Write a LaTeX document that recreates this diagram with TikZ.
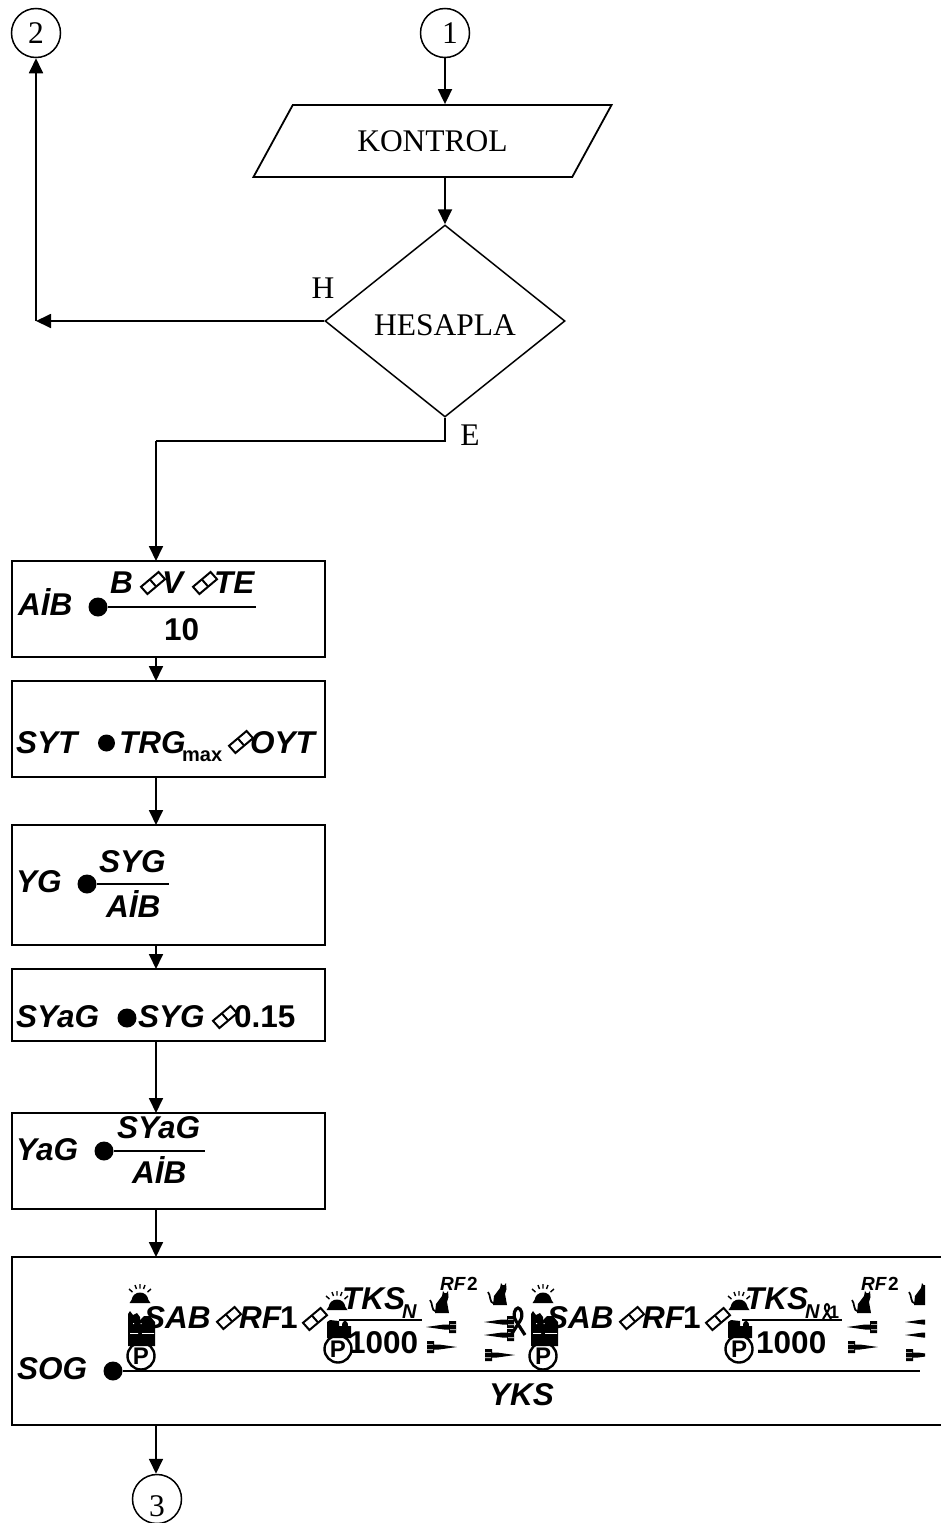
\documentclass[tikz,border=0pt]{standalone}
\usepackage{fontspec}
\setmainfont{Liberation Serif}
\setsansfont{Liberation Sans}
\usetikzlibrary{shapes.geometric, arrows.meta, positioning, calc}

\newcommand{\eqfont}{\sffamily\bfseries\itshape\fontsize{31.5}{36}\selectfont}
\newcommand{\numfont}{\sffamily\bfseries\fontsize{31.5}{36}\selectfont}
\newcommand{\subfont}{\sffamily\bfseries\itshape\fontsize{20}{24}\selectfont}
\newcommand{\flowfont}{\rmfamily\fontsize{31.5}{36}\selectfont}

\tikzset{
    flowline/.style={line width=1.8pt, -{Triangle[length=15pt,width=14pt]}},
    plainline/.style={line width=1.8pt},
    barline/.style={line width=1.4pt},
    stepbox/.style={draw, line width=1.8pt, minimum width=313pt, inner sep=0pt, outer sep=0pt},
    termcircle/.style={draw, circle, line width=1.5pt, minimum size=49pt, inner sep=0pt, font=\flowfont},
    eqlab/.style={anchor=base west, inner sep=0pt, font=\eqfont},
    numlab/.style={anchor=base west, inner sep=0pt, font=\numfont},
    sublab/.style={anchor=base west, inner sep=0pt, font=\subfont},
    eqdot/.style={circle, fill=black, minimum size=19pt, inner sep=0pt},
    parksign/.style={circle, draw, line width=2.4pt, minimum size=27pt, inner sep=0pt, font=\sffamily\bfseries\fontsize{24}{26}\selectfont},
    bandpic/.pic={
        \draw[line width=2pt, fill=white] (-12,3.8) -- (5.6,-11) -- (12,-3.8) -- (-5.6,11) -- cycle;
        \draw[line width=2pt] (-3.2,-3.6) -- (3.2,3.6);
    },
    bellpic/.pic={
        \fill (-10.5,5) -- (-8.5,2) .. controls (-7,-8) and (7,-8) .. (8.5,2) -- (10.5,5) -- cycle;
        \draw[line width=1.4pt] (-11,-9) -- (-7.5,-6) (-5,-13) -- (-3.5,-9) (0,-14) -- (0,-9.5) (5,-13) -- (3.5,-9) (11,-9) -- (7.5,-6);
    },
    catpic/.pic={
        \fill (13,0) -- (14.5,2) -- (16.5,2) -- (18,0) -- (18.5,6) -- (17,11) -- (19,22) -- (5,22) -- (6,13) -- (12,5) -- cycle;
        \draw[line width=1.7pt] (6,20.5) .. controls (1,20) and (3,12) .. (0,9);
    },
    dartpic/.pic={
        \fill (0,0) -- (18,-2.5) -- (23,-2.5) -- (23,-6) -- (30,-6) -- (30,6) -- (23,6) -- (23,2.5) -- (18,2.5) -- cycle;
        \fill[white] (24,-3) rectangle (30,-2.4) (24,2.4) rectangle (30,3);
    },
    ribbonpic/.pic={
        \draw[line width=3.2pt] (-7,14) -- (2,0) .. controls (6,-6) and (3,-13) .. (0,-13) .. controls (-3,-13) and (-6,-6) .. (-2,0) -- (7,14);
    },
    smallribbonpic/.pic={
        \draw[line width=2pt] (-4,8) -- (1,0) .. controls (3.3,-3.3) and (1.6,-7) .. (0,-7) .. controls (-1.6,-7) and (-3.3,-3.3) .. (-1,0) -- (4,8);
    },
    bagpic/.pic={
        \fill (0,3) -- (2,0) -- (5,4) -- (9,2) -- (12,6) -- (12,35) -- (0,35) -- cycle;
        \fill (12,9) -- (16,5) -- (22,5) -- (27,11) -- (27,35) -- (12,35) -- cycle;
        \fill[white] (14,22) rectangle (26,22.8) (2,22) rectangle (10,22.8) (12.5,12) rectangle (13.5,13) (5,12) rectangle (6,13);
    },
    smallbagpic/.pic={
        \fill (0,2) -- (3,0) -- (12,1) -- (12,18) -- (0,18) -- cycle;
        \fill (12,6) -- (15,6) .. controls (15,-1) and (21,-1) .. (21,6) -- (24,6) -- (24,18) -- (12,18) -- cycle;
    }
}

\begin{document}
\begin{tikzpicture}[x=1pt, y=-1pt]
    \useasboundingbox (0,0) rectangle (941,1523);
    \clip (0,0) rectangle (941,1523);

    % flow part
    \coordinate (spine) at (156,0);
    \node[termcircle] (conn1) at (445,33) {\hspace{10pt}1};
    \node[termcircle] (conn2) at (36,33) {2};
    \node[trapezium, draw, line width=1.8pt, trapezium left angle=45, trapezium right angle=135, trapezium stretches=true, minimum width=359pt, minimum height=72pt, inner sep=0pt, font=\flowfont] (kontrol) at (432.5,141) {KONTROL};
    \node[diamond, draw, line width=1.5pt, minimum width=240pt, minimum height=192pt, inner sep=0pt, font=\flowfont] (hesapla) at (445,321) {\raisebox{-14pt}[0pt][0pt]{HESAPLA}};
    \node[font=\flowfont, inner sep=0pt] (hlab) at (323,288) {H};
    \node[font=\flowfont, inner sep=0pt] (elab) at (470,435) {E};
    \coordinate (hturn) at (36,321);
    \coordinate (eturn) at (445,441);

    \node[stepbox, minimum height=96pt, anchor=north west] (aib) at (12,561) {};
    \node[stepbox, minimum height=96pt, anchor=north west] (syt) at (12,681) {};
    \node[stepbox, minimum height=120pt, anchor=north west] (yg) at (12,825) {};
    \node[stepbox, minimum height=72pt, anchor=north west] (syag) at (12,969) {};
    \node[stepbox, minimum height=96pt, anchor=north west] (yag) at (12,1113) {};
    \node[stepbox, minimum width=935pt, minimum height=168pt, anchor=north west] (sog) at (12,1257) {};
    \node[termcircle] (conn3) at (157,1499) {\raisebox{-17pt}[0pt][0pt]{3}};

    \draw[flowline] (conn1.south) -- (conn1.south |- kontrol.north);
    \draw[flowline] (kontrol.south -| hesapla.north) -- (hesapla.north);
    \draw[flowline] (hesapla.west) -- (hturn);
    \draw[flowline] (hturn) -- (conn2.south);
    \draw[plainline] (hesapla.south) -- (eturn) -- (eturn -| spine);
    \draw[flowline] (eturn -| spine) -- (spine |- aib.north);
    \draw[flowline] (spine |- aib.south) -- (spine |- syt.north);
    \draw[flowline] (spine |- syt.south) -- (spine |- yg.north);
    \draw[flowline] (spine |- yg.south) -- (spine |- syag.north);
    \draw[flowline] (spine |- syag.south) -- (spine |- yag.north);
    \draw[flowline] (spine |- yag.south) -- (spine |- sog.north);
    \draw[flowline] (spine |- sog.south) -- (spine |- conn3.north);

    % aib
    \node[eqlab] (aibname) at (18,615) {A\.{I}B};
    \node[eqdot] (aibdot) at (98,607) {};
    \draw[barline] (aibdot.east) -- ++(148,0);
    \node[eqlab] (aibb) at (110,593) {B};
    \pic at (153,583) {bandpic};
    \node[eqlab] (aibv) at (162,593) {V};
    \pic at (205,583) {bandpic};
    \node[eqlab] (aibte) at (214,593) {TE};
    \node[numlab] (aibten) at (164,640) {10};

    % syt
    \node[eqlab] (sytname) at (16,753) {SYT};
    \node[eqdot, minimum size=17pt] (sytdot) at (106.5,743) {};
    \node[eqlab] (sytrg) at (119,753) {TRG};
    \node[inner sep=0pt, anchor=base west, font=\sffamily\bfseries\fontsize{20}{22}\selectfont] (sytmax) at (182,761) {max};
    \pic at (241,742) {bandpic};
    \node[eqlab] (sytoyt) at (250,753) {OYT};

    % yg
    \node[eqlab] (ygname) at (16,892) {YG};
    \node[eqdot] (ygdot) at (87,884) {};
    \draw[barline] (ygdot.east) -- ++(72,0);
    \node[eqlab] (ygtop) at (99,872) {SYG};
    \node[eqlab] (ygbot) at (106,917) {A\.{I}B};

    % syag
    \node[eqlab] (syagname) at (16,1027) {SYaG};
    \node[eqdot] (syagdot) at (127,1018) {};
    \node[eqlab] (syagsyg) at (138,1027) {SYG};
    \pic at (225,1017) {bandpic};
    \node[numlab] (syagnum) at (234,1027) {0.15};

    % yag
    \node[eqlab] (yagname) at (16,1160) {YaG};
    \node[eqdot] (yagdot) at (104,1151) {};
    \draw[barline] (yagdot.east) -- ++(91,0);
    \node[eqlab] (yagtop) at (117,1138) {SYaG};
    \node[eqlab] (yagbot) at (132,1183) {A\.{I}B};

    % sog
    \node[eqlab] (sogname) at (17,1379) {SOG};
    \node[eqdot] (sogdot) at (113,1371) {};
    \draw[barline] (sogdot.east) -- ++(797,0);
    \node[eqlab] (sogyks) at (489,1405) {YKS};

    % sog, first term
    \pic at (140,1298) {bellpic};
    \pic at (128,1311) {bagpic};
    \node[parksign] (parka) at (141,1356) {P};
    \node[eqlab] (saba) at (144,1328) {SAB};
    \pic at (229,1318) {bandpic};
    \node[eqlab] (rfa) at (239,1328) {RF};
    \node[numlab] (onea) at (280,1328) {1};
    \pic at (315,1319) {bandpic};
    \pic at (337,1305) {bellpic};
    \pic at (327,1320) {smallbagpic};
    \node[parksign] (parkb) at (338,1349) {P};
    \node[eqlab] (tksa) at (342,1309) {TKS};
    \node[sublab] (subna) at (402,1318) {N};
    \draw[barline] (339,1320) -- (422,1320);
    \node[numlab] (kilo) at (348,1353) {1000};
    \node[sublab, font=\subfont\fontsize{19}{22}\selectfont] (rfb) at (440,1290) {RF\hspace{1.5pt}{\upshape 2}};
    \pic at (430,1291) {catpic};
    \pic at (426,1327) {dartpic};
    \pic[xscale=-1] at (457,1347) {dartpic};
    \pic at (488,1283) {catpic};
    \pic at (484,1322) {dartpic};
    \pic at (484,1335) {dartpic};
    \pic[xscale=-1] at (515,1355) {dartpic};
    \pic at (518,1321) {ribbonpic};

    % sog, second term
    \pic at (543,1298) {bellpic};
    \pic at (531,1311) {bagpic};
    \node[parksign] (parkc) at (543,1356) {P};
    \node[eqlab] (sabb) at (547,1328) {SAB};
    \pic at (632,1318) {bandpic};
    \node[eqlab] (rfc) at (642,1328) {RF};
    \node[numlab] (oneb) at (683,1328) {1};
    \pic at (718,1319) {bandpic};
    \pic at (739,1305) {bellpic};
    \pic at (728,1320) {smallbagpic};
    \node[parksign] (parkd) at (739,1349) {P};
    \node[eqlab] (tksb) at (745,1309) {TKS};
    \node[sublab] (subnb) at (805,1318) {N};
    \pic at (827,1311) {smallribbonpic};
    \node[sublab, font=\sffamily\bfseries\fontsize{18}{22}\selectfont] (oned) at (829,1318) {1};
    \draw[barline] (742,1320) -- (842,1320);
    \node[numlab] (kilob) at (756,1353) {1000};
    \node[sublab, font=\subfont\fontsize{19}{22}\selectfont] (rfd) at (861,1290) {RF\hspace{1.5pt}{\upshape 2}};
    \pic at (852,1291) {catpic};
    \pic at (847,1327) {dartpic};
    \pic[xscale=-1] at (878,1347) {dartpic};
    \begin{scope}
        \clip (900,1270) rectangle (925,1370);
        \pic at (909,1283) {catpic};
        \pic at (905,1322) {dartpic};
        \pic at (905,1335) {dartpic};
        \pic[xscale=-1] at (936,1355) {dartpic};
    \end{scope}
\end{tikzpicture}
\end{document}
